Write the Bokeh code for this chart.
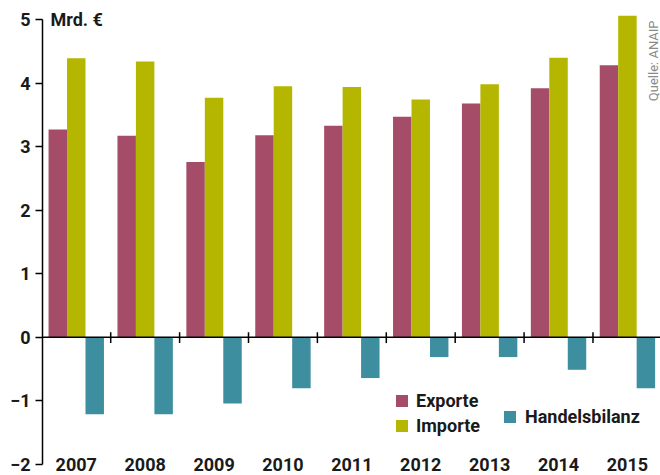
import math
from bokeh.plotting import figure
from bokeh.models import Range1d, Span, Label, Legend, LegendItem, FixedTicker, ColumnDataSource
from bokeh.core.properties import value
from bokeh.embed import file_html
from bokeh.resources import INLINE

years = ["2007", "2008", "2009", "2010", "2011", "2012", "2013", "2014", "2015"]
exporte = [3.27, 3.17, 2.76, 3.18, 3.33, 3.47, 3.68, 3.92, 4.28]
importe = [4.39, 4.34, 3.77, 3.95, 3.94, 3.74, 3.98, 4.40, 5.06]
handelsbilanz = [-1.21, -1.21, -1.04, -0.80, -0.64, -0.31, -0.31, -0.51, -0.80]
y_ticks = [-2, -1, 0, 1, 2, 3, 4, 5]

FONT = "Roboto"
C_EX = "#A54D68"
C_IM = "#B5B600"
C_HB = "#3D8E9F"
TXT = "#1a1a1a"

n = len(years)
idx = list(range(n))
bw = 0.268

# frame spans the full height; axis line bounded to the tick range
p = figure(width=660, height=475, output_backend="svg", toolbar_location=None,
           x_range=Range1d(-0.49, 8.48), y_range=Range1d(-2.173, 5.2989),
           min_border_left=42, min_border_right=0, min_border_top=0, min_border_bottom=0)
p.outline_line_color = None
p.grid.visible = False
p.xaxis.visible = False
p.background_fill_color = "white"
p.border_fill_color = "white"

ya = p.yaxis[0]
ya.bounds = (y_ticks[0], y_ticks[-1])
ya.ticker = FixedTicker(ticks=y_ticks)
ya.major_tick_in = 0
ya.major_tick_out = 7
ya.minor_tick_out = 0
ya.minor_tick_in = 0
ya.major_tick_line_width = 1.5
ya.axis_line_width = 1.5
ya.axis_line_color = "black"
ya.major_tick_line_color = "black"
ya.major_label_standoff = 5
ya.major_label_text_font = FONT
ya.major_label_text_font_size = "18px"
ya.major_label_text_font_style = "bold"
ya.major_label_text_color = TXT

src = ColumnDataSource(dict(
    x_ex=[i - bw for i in idx], x_im=[i for i in idx], x_hb=[i + bw for i in idx],
    ex=exporte, im=importe, hb=handelsbilanz, years=years,
    ylab=[y_ticks[0]] * n))

r_ex = p.vbar(x="x_ex", top="ex", bottom=0, width=bw, source=src, fill_color=C_EX, line_color=None)
r_im = p.vbar(x="x_im", top="im", bottom=0, width=bw, source=src, fill_color=C_IM, line_color=None)
r_hb = p.vbar(x="x_hb", top="hb", bottom=0, width=bw, source=src, fill_color=C_HB, line_color=None)

p.add_layout(Span(location=0, dimension="width", line_color="black", line_width=1.5))

mids = [i + 0.5 for i in idx[:-1]]
p.segment(x0=mids, x1=mids, y0=[-0.09] * len(mids), y1=[0.08] * len(mids),
          line_color="black", line_width=1.5)

p.text(x="x_im", y="ylab", text="years", source=src, text_font=value(FONT),
       text_font_size="18px", text_font_style="bold", text_color=TXT,
       text_align="center", text_baseline="middle")

p.add_layout(Label(x=-0.49, y=y_ticks[-1], x_offset=8, text="Mrd. €", text_font=FONT,
                   text_font_size="18px", text_font_style="bold", text_color=TXT,
                   text_baseline="middle", text_align="left"))

p.add_layout(Label(x=8.48, y=y_ticks[-1], x_offset=-7, y_offset=-1, text="Quelle: ANAIP",
                   angle=math.pi / 2, text_font=FONT, text_font_size="13px",
                   text_color="#8a8a8a", text_baseline="middle", text_align="right"))

leg1 = Legend(items=[LegendItem(label="Exporte", renderers=[r_ex]),
                     LegendItem(label="Importe", renderers=[r_im])],
              location=(352, 39), orientation="vertical", glyph_width=15, glyph_height=15,
              label_height=15, spacing=4, padding=0, margin=0, label_standoff=7,
              background_fill_alpha=0, border_line_color=None,
              label_text_font=FONT, label_text_font_size="18px", label_text_font_style="bold",
              label_text_color=TXT)
leg2 = Legend(items=[LegendItem(label="Handelsbilanz", renderers=[r_hb])],
              location=(460, 48), orientation="vertical", glyph_width=15, glyph_height=15,
              label_height=15, spacing=0, padding=0, margin=0, label_standoff=8,
              background_fill_alpha=0, border_line_color=None,
              label_text_font=FONT, label_text_font_size="18px", label_text_font_style="bold",
              label_text_color=TXT)
p.add_layout(leg1)
p.add_layout(leg2)

open("out.html", "w").write(file_html(p, INLINE))
